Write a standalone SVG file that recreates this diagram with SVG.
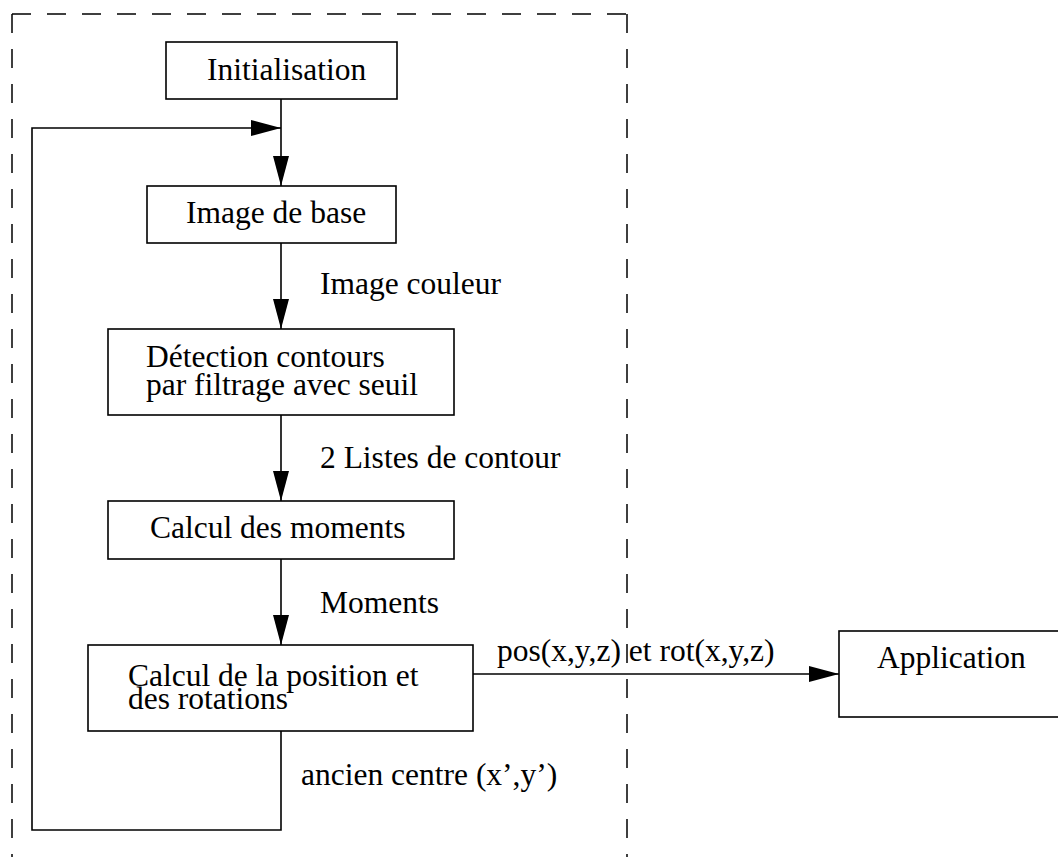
<svg xmlns="http://www.w3.org/2000/svg" width="1058" height="857" viewBox="0 0 1058 857">
<style>
.box{fill:#fff;stroke:#000;stroke-width:1.6}
.t{font-family:"Liberation Serif","Times New Roman",serif;font-size:31.5px;fill:#000}
.c{fill:none;stroke:#000;stroke-width:1.6}
.d{fill:none;stroke:#000;stroke-width:1.5;stroke-dasharray:19 16}
</style>
<defs>
<marker id="ah" markerUnits="userSpaceOnUse" markerWidth="32" markerHeight="18" refX="30" refY="8" orient="auto">
<path d="M0,0 L30,8 L0,16 Z" fill="#000"/>
</marker>
</defs>
<g id="frame">
<line class="d" x1="12" y1="14" x2="627" y2="14"/>
<line class="d" x1="12" y1="14" x2="12" y2="870"/>
<line class="d" x1="627" y1="14" x2="627" y2="870"/>
</g>
<g id="connectors">
<line class="c" x1="281" y1="99" x2="281" y2="186" marker-end="url(#ah)"/>
<path class="c" d="M281,731 V830 H32 V128 H281" marker-end="url(#ah)"/>
<line class="c" x1="281" y1="243" x2="281" y2="329" marker-end="url(#ah)"/>
<line class="c" x1="281" y1="415" x2="281" y2="501" marker-end="url(#ah)"/>
<line class="c" x1="281" y1="559" x2="281" y2="645" marker-end="url(#ah)"/>
<line class="c" x1="473" y1="674" x2="839" y2="674" marker-end="url(#ah)"/>
<text class="t" x="320" y="294">Image couleur</text>
<text class="t" x="320" y="468">2 Listes de contour</text>
<text class="t" x="320" y="613">Moments</text>
<text class="t" x="497" y="661">pos(x,y,z) et rot(x,y,z)</text>
<text class="t" x="301" y="785">ancien centre (x’,y’)</text>
</g>
<g id="init">
<rect class="box" x="166" y="42" width="231" height="57"/>
<text class="t" x="207" y="80">Initialisation</text>
</g>
<g id="image-base">
<rect class="box" x="147" y="186" width="249" height="57"/>
<text class="t" x="186" y="223">Image de base</text>
</g>
<g id="detection">
<rect class="box" x="108" y="329" width="346" height="86"/>
<text class="t" x="146" y="367">Détection contours</text>
<text class="t" x="146" y="395">par filtrage avec seuil</text>
</g>
<g id="moments">
<rect class="box" x="108" y="501" width="346" height="58"/>
<text class="t" x="150" y="538">Calcul des moments</text>
</g>
<g id="position">
<rect class="box" x="88" y="645" width="385" height="86"/>
<text class="t" x="128" y="686">Calcul de la position et</text>
<text class="t" x="128" y="709">des rotations</text>
</g>
<g id="application">
<rect class="box" x="839" y="631" width="240" height="86"/>
<text class="t" x="877" y="668">Application</text>
</g>
</svg>
